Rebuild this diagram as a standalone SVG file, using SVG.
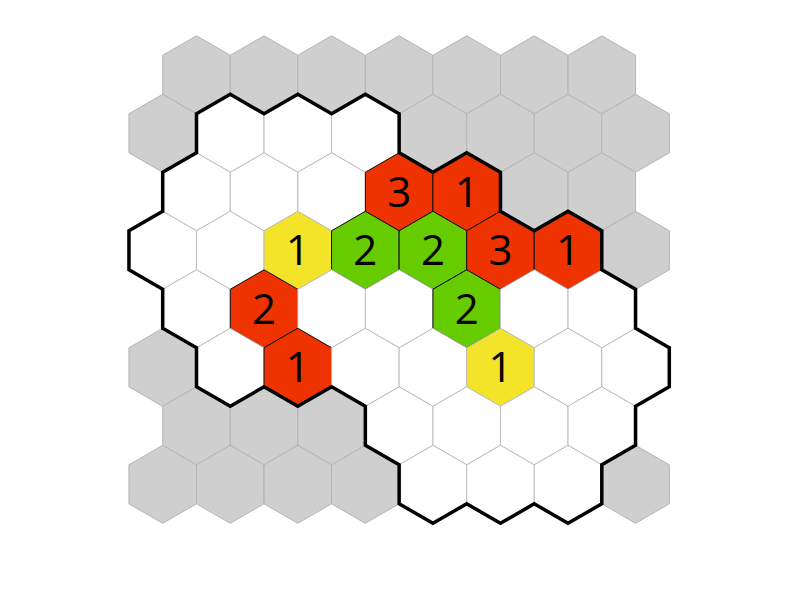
<svg xmlns="http://www.w3.org/2000/svg" xmlns:xlink="http://www.w3.org/1999/xlink" width="800" height="600" viewBox="0 0 800 600">
<style>
.g{fill:#cfcfcf;stroke:#b4b4b4;stroke-width:1}
.w{fill:#ffffff;stroke:#bdbdbd;stroke-width:1}
.r{fill:#ee3300;stroke:#111111;stroke-width:1}
.gr{fill:#66cc00;stroke:#111111;stroke-width:1}
.y{fill:#f3e42a;stroke:#bdbdbd;stroke-width:1}
.t{font-family:"Open Sans","Liberation Sans",sans-serif;font-size:42px;fill:#000;text-anchor:middle}
.border{fill:none;stroke:#000;stroke-width:3.5;stroke-linejoin:miter}
</style>
<defs>
<polygon id="hex" points="0,-39 33.775,-19.5 33.775,19.5 0,39 -33.775,19.5 -33.775,-19.5"/>
</defs>
<rect width="800" height="600" fill="#ffffff"/>
<g id="row0">
<g id="h0-0"><use xlink:href="#hex" href="#hex" x="196.5" y="74.8" class="g"/></g>
<g id="h0-1"><use xlink:href="#hex" href="#hex" x="264.05" y="74.8" class="g"/></g>
<g id="h0-2"><use xlink:href="#hex" href="#hex" x="331.6" y="74.8" class="g"/></g>
<g id="h0-3"><use xlink:href="#hex" href="#hex" x="399.15" y="74.8" class="g"/></g>
<g id="h0-4"><use xlink:href="#hex" href="#hex" x="466.7" y="74.8" class="g"/></g>
<g id="h0-5"><use xlink:href="#hex" href="#hex" x="534.25" y="74.8" class="g"/></g>
<g id="h0-6"><use xlink:href="#hex" href="#hex" x="601.8" y="74.8" class="g"/></g>
</g>
<g id="row1">
<g id="h1-0"><use xlink:href="#hex" href="#hex" x="162.7" y="133.3" class="g"/></g>
<g id="h1-1"><use xlink:href="#hex" href="#hex" x="230.25" y="133.3" class="w"/></g>
<g id="h1-2"><use xlink:href="#hex" href="#hex" x="297.8" y="133.3" class="w"/></g>
<g id="h1-3"><use xlink:href="#hex" href="#hex" x="365.35" y="133.3" class="w"/></g>
<g id="h1-4"><use xlink:href="#hex" href="#hex" x="432.9" y="133.3" class="g"/></g>
<g id="h1-5"><use xlink:href="#hex" href="#hex" x="500.45" y="133.3" class="g"/></g>
<g id="h1-6"><use xlink:href="#hex" href="#hex" x="568" y="133.3" class="g"/></g>
<g id="h1-7"><use xlink:href="#hex" href="#hex" x="635.55" y="133.3" class="g"/></g>
</g>
<g id="row2">
<g id="h2-0"><use xlink:href="#hex" href="#hex" x="196.5" y="191.8" class="w"/></g>
<g id="h2-1"><use xlink:href="#hex" href="#hex" x="264.05" y="191.8" class="w"/></g>
<g id="h2-2"><use xlink:href="#hex" href="#hex" x="331.6" y="191.8" class="w"/></g>
<g id="h2-3"><use xlink:href="#hex" href="#hex" x="399.15" y="191.8" class="r"/><text class="t" x="399.15" y="206.8">3</text></g>
<g id="h2-4"><use xlink:href="#hex" href="#hex" x="466.7" y="191.8" class="r"/><text class="t" x="466.7" y="206.8">1</text></g>
<g id="h2-5"><use xlink:href="#hex" href="#hex" x="534.25" y="191.8" class="g"/></g>
<g id="h2-6"><use xlink:href="#hex" href="#hex" x="601.8" y="191.8" class="g"/></g>
</g>
<g id="row3">
<g id="h3-0"><use xlink:href="#hex" href="#hex" x="162.7" y="250.3" class="w"/></g>
<g id="h3-1"><use xlink:href="#hex" href="#hex" x="230.25" y="250.3" class="w"/></g>
<g id="h3-2"><use xlink:href="#hex" href="#hex" x="297.8" y="250.3" class="y"/><text class="t" x="297.8" y="265.3">1</text></g>
<g id="h3-3"><use xlink:href="#hex" href="#hex" x="365.35" y="250.3" class="gr"/><text class="t" x="365.35" y="265.3">2</text></g>
<g id="h3-4"><use xlink:href="#hex" href="#hex" x="432.9" y="250.3" class="gr"/><text class="t" x="432.9" y="265.3">2</text></g>
<g id="h3-5"><use xlink:href="#hex" href="#hex" x="500.45" y="250.3" class="r"/><text class="t" x="500.45" y="265.3">3</text></g>
<g id="h3-6"><use xlink:href="#hex" href="#hex" x="568" y="250.3" class="r"/><text class="t" x="568" y="265.3">1</text></g>
<g id="h3-7"><use xlink:href="#hex" href="#hex" x="635.55" y="250.3" class="g"/></g>
</g>
<g id="row4">
<g id="h4-0"><use xlink:href="#hex" href="#hex" x="196.5" y="308.8" class="w"/></g>
<g id="h4-1"><use xlink:href="#hex" href="#hex" x="264.05" y="308.8" class="r"/><text class="t" x="264.05" y="323.8">2</text></g>
<g id="h4-2"><use xlink:href="#hex" href="#hex" x="331.6" y="308.8" class="w"/></g>
<g id="h4-3"><use xlink:href="#hex" href="#hex" x="399.15" y="308.8" class="w"/></g>
<g id="h4-4"><use xlink:href="#hex" href="#hex" x="466.7" y="308.8" class="gr"/><text class="t" x="466.7" y="323.8">2</text></g>
<g id="h4-5"><use xlink:href="#hex" href="#hex" x="534.25" y="308.8" class="w"/></g>
<g id="h4-6"><use xlink:href="#hex" href="#hex" x="601.8" y="308.8" class="w"/></g>
</g>
<g id="row5">
<g id="h5-0"><use xlink:href="#hex" href="#hex" x="162.7" y="367.3" class="g"/></g>
<g id="h5-1"><use xlink:href="#hex" href="#hex" x="230.25" y="367.3" class="w"/></g>
<g id="h5-2"><use xlink:href="#hex" href="#hex" x="297.8" y="367.3" class="r"/><text class="t" x="297.8" y="382.3">1</text></g>
<g id="h5-3"><use xlink:href="#hex" href="#hex" x="365.35" y="367.3" class="w"/></g>
<g id="h5-4"><use xlink:href="#hex" href="#hex" x="432.9" y="367.3" class="w"/></g>
<g id="h5-5"><use xlink:href="#hex" href="#hex" x="500.45" y="367.3" class="y"/><text class="t" x="500.45" y="382.3">1</text></g>
<g id="h5-6"><use xlink:href="#hex" href="#hex" x="568" y="367.3" class="w"/></g>
<g id="h5-7"><use xlink:href="#hex" href="#hex" x="635.55" y="367.3" class="w"/></g>
</g>
<g id="row6">
<g id="h6-0"><use xlink:href="#hex" href="#hex" x="196.5" y="425.8" class="g"/></g>
<g id="h6-1"><use xlink:href="#hex" href="#hex" x="264.05" y="425.8" class="g"/></g>
<g id="h6-2"><use xlink:href="#hex" href="#hex" x="331.6" y="425.8" class="g"/></g>
<g id="h6-3"><use xlink:href="#hex" href="#hex" x="399.15" y="425.8" class="w"/></g>
<g id="h6-4"><use xlink:href="#hex" href="#hex" x="466.7" y="425.8" class="w"/></g>
<g id="h6-5"><use xlink:href="#hex" href="#hex" x="534.25" y="425.8" class="w"/></g>
<g id="h6-6"><use xlink:href="#hex" href="#hex" x="601.8" y="425.8" class="w"/></g>
</g>
<g id="row7">
<g id="h7-0"><use xlink:href="#hex" href="#hex" x="162.7" y="484.3" class="g"/></g>
<g id="h7-1"><use xlink:href="#hex" href="#hex" x="230.25" y="484.3" class="g"/></g>
<g id="h7-2"><use xlink:href="#hex" href="#hex" x="297.8" y="484.3" class="g"/></g>
<g id="h7-3"><use xlink:href="#hex" href="#hex" x="365.35" y="484.3" class="g"/></g>
<g id="h7-4"><use xlink:href="#hex" href="#hex" x="432.9" y="484.3" class="w"/></g>
<g id="h7-5"><use xlink:href="#hex" href="#hex" x="500.45" y="484.3" class="w"/></g>
<g id="h7-6"><use xlink:href="#hex" href="#hex" x="568" y="484.3" class="w"/></g>
<g id="h7-7"><use xlink:href="#hex" href="#hex" x="635.55" y="484.3" class="g"/></g>
</g>
<g id="connectors">
<path id="outline" class="border" d="M196.5,152.8 L196.5,113.8 L230.25,94.3 L264.05,113.8 L297.8,94.3 L331.6,113.8 L365.35,94.3 L399.15,113.8 L399.15,152.8 L432.9,172.3 L466.7,152.8 L500.45,172.3 L500.45,211.3 L534.25,230.8 L568,211.3 L601.8,230.8 L601.8,269.8 L635.55,289.3 L635.55,328.3 L669.3,347.8 L669.3,386.8 L635.55,406.3 L635.55,445.3 L601.8,464.8 L601.8,503.8 L568,523.3 L534.25,503.8 L500.45,523.3 L466.7,503.8 L432.9,523.3 L399.15,503.8 L399.15,464.8 L365.35,445.3 L365.35,406.3 L331.6,386.8 L297.8,406.3 L264.05,386.8 L230.25,406.3 L196.5,386.8 L196.5,347.8 L162.7,328.3 L162.7,289.3 L128.95,269.8 L128.95,230.8 L162.7,211.3 L162.7,172.3 Z"/>
</g>
</svg>
